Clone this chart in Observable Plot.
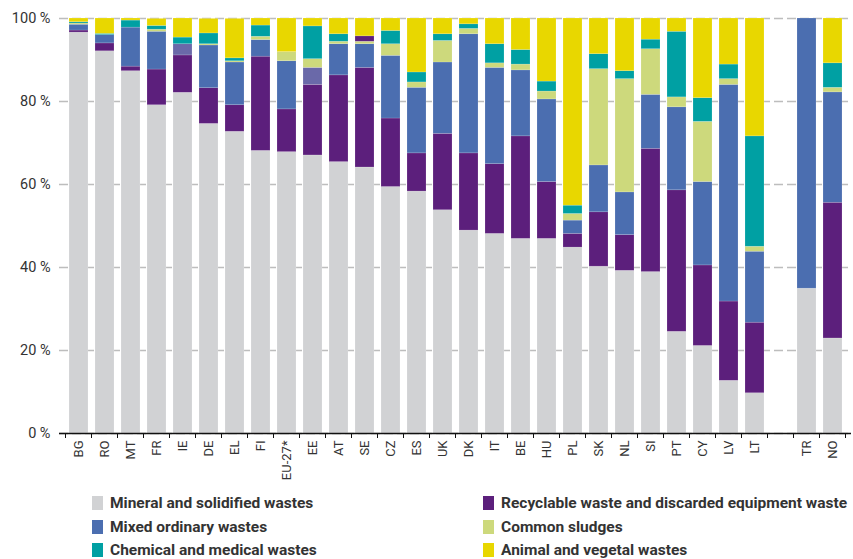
<!DOCTYPE html>
<html>
<head>
<meta charset="utf-8">
<script src="https://cdn.jsdelivr.net/npm/d3@7"></script>
<script src="https://cdn.jsdelivr.net/npm/@observablehq/plot@0.6"></script>
<style>
  body { margin: 0; background: #fff; }
  #chart { position: relative; width: 853px; height: 559px; font-family: Roboto, "Open Sans", sans-serif; }
  .legend { position: absolute; left: 0; top: 485px; width: 853px; height: 74px; }
  .item { position: absolute; display: flex; align-items: center; font-weight: bold; font-size: 15.5px; color: #333; white-space: nowrap; }
  .sw { width: 11px; height: 14px; margin-right: 7px; }
</style>
</head>
<body>
<div id="chart"></div>
<script>
// Categories (the empty string is the visual gap between LT and TR)
const countries = ["BG","RO","MT","FR","IE","DE","EL","FI","EU-27*","EE","AT","SE","CZ","ES","UK","DK","IT","BE","HU","PL","SK","NL","SI","PT","CY","LV","LT","","TR","NO"];
const dataCountries = ["BG","RO","MT","FR","IE","DE","EL","FI","EU-27*","EE","AT","SE","CZ","ES","UK","DK","IT","BE","HU","PL","SK","NL","SI","PT","CY","LV","LT","TR","NO"];

// Shares (%) per series, one value per entry of dataCountries
const mineral     = [96.6,92.1,87.3,79.1,82.1,74.6,72.7,68.1,67.8,67.0,65.4,64.1,59.4,58.3,53.8,48.9,48.1,46.9,46.9,44.8,40.2,39.2,38.9,24.5,21.1,12.7,9.7,34.9,22.9];
const recyclable  = [0.5,1.9,1.1,8.6,9.0,8.6,6.4,22.7,10.3,17.0,20.9,24.0,16.5,9.2,18.4,18.6,16.8,24.7,13.7,3.3,13.1,8.6,29.7,34.1,19.4,19.1,17.0,0,32.7];
const mixed       = [1.4,2.0,9.4,9.1,0,10.3,10.3,4.0,11.6,0,7.5,5.7,15.1,15.8,17.2,28.7,23.2,15.9,19.9,3.2,11.3,10.3,13.0,20.0,20.1,52.2,17.1,65.1,26.6];
const mixedShade  = [0,0,0,0,2.7,0,0,0,0,4.1,0,0,0,0,0,0,0,0,0,0,0,0,0,0,0,0,0,0,0];
const sludges     = [0.3,0,0,0.5,0,0.3,0.3,0.8,2.2,2.1,0.6,0.6,2.8,1.3,5.2,1.3,1.1,1.4,1.9,1.6,23.2,27.3,11.0,2.4,14.5,1.4,1.2,0,1.1];
const recycTop    = [0,0,0,0,0,0,0,0,0,0,0,1.3,0,0,0,0,0,0,0,0,0,0,0,0,0,0,0,0,0];
const chemical    = [0.3,0.3,1.7,0.9,1.6,2.6,0.7,2.7,0,7.9,1.8,0,3.2,2.4,1.6,1.1,4.6,3.5,2.4,2.0,3.6,1.9,2.3,15.8,5.7,3.5,26.6,0,5.9];
const animal      = [0.9,3.7,0.5,1.7,4.6,3.5,9.5,1.7,8.1,1.9,3.8,4.3,3.0,13.0,3.8,1.4,6.2,7.6,15.2,45.1,8.6,12.7,5.1,3.2,19.2,11.1,28.4,0,10.8];

const yTicks = [0,20,40,60,80,100];

const seriesNames = [
  "Mineral and solidified wastes",
  "Recyclable waste and discarded equipment waste",
  "Mixed ordinary wastes",
  "Mixed ordinary wastes (shade)",
  "Common sludges",
  "Recyclable waste (top)",
  "Chemical and medical wastes",
  "Animal and vegetal wastes"
];
const seriesValues = [mineral, recyclable, mixed, mixedShade, sludges, recycTop, chemical, animal];
const seriesColors = ["#d1d2d4","#5c1f7c","#4b6eb0","#6a69a9","#cdd97c","#5c1f7c","#00a0a3","#e8d700"];

const legendItems = [
  {name: "Mineral and solidified wastes", color: "#d1d2d4", left: 92, top: 19},
  {name: "Mixed ordinary wastes", color: "#4b6eb0", left: 92, top: 43},
  {name: "Chemical and medical wastes", color: "#00a0a3", left: 92, top: 66},
  {name: "Recyclable waste and discarded equipment waste", color: "#5c1f7c", left: 483, top: 19},
  {name: "Common sludges", color: "#cdd97c", left: 483, top: 43},
  {name: "Animal and vegetal wastes", color: "#e8d700", left: 483, top: 66}
];

const rows = [];
dataCountries.forEach((c, i) => {
  seriesNames.forEach((s, j) => {
    rows.push({country: c, series: s, value: seriesValues[j][i]});
  });
});

const plot = Plot.plot({
  width: 853,
  height: 485,
  marginLeft: 59,
  marginRight: 2,
  marginTop: 18,
  marginBottom: 52,
  style: {fontFamily: 'Roboto, "Open Sans", sans-serif', background: "#fff"},
  x: {domain: countries, padding: 0.27, label: null},
  y: {domain: [0, 100], label: null},
  color: {domain: seriesNames, range: seriesColors},
  marks: [
    Plot.gridY(yTicks, {stroke: "#bdbdbd", strokeOpacity: 1, strokeWidth: 1.5, strokeDasharray: "9,4", x1: null}),
    Plot.barY(rows, {x: "country", y: "value", fill: "series", order: seriesNames, stroke: "#ffffff", strokeOpacity: 0.25, strokeWidth: 0.6}),
    Plot.axisY(yTicks, {tickSize: 0, tickPadding: 9, tickFormat: d => d + " %", fontSize: 14.5, fill: "#333"}),
    Plot.axisX({tickSize: 0, tickPadding: 7, tickRotate: -90, fontSize: 13, fill: "#333"}),
    Plot.ruleY([0], {stroke: "#111", strokeWidth: 1.6})
  ]
});

// Boundary tick marks between categories, placed from the plot's own x scale
const xs = plot.scale("x");
const half = (xs.step - xs.bandwidth) / 2;
const svg = d3.select(plot);
const y0 = plot.scale("y").apply(0);
const bounds = countries.map(c => xs.apply(c) - half).concat([xs.apply(countries[countries.length - 1]) + xs.bandwidth + half]);
svg.append("g").selectAll("line").data(bounds).join("line")
  .attr("x1", d => d).attr("x2", d => d)
  .attr("y1", y0).attr("y2", y0 + 5)
  .attr("stroke", "#111").attr("stroke-width", 1);

const chart = document.getElementById("chart");
chart.appendChild(plot);

const legend = document.createElement("div");
legend.className = "legend";
legendItems.forEach(it => {
  const el = document.createElement("div");
  el.className = "item";
  el.style.left = it.left + "px";
  el.style.top = (it.top - 10) + "px";
  const sw = document.createElement("span");
  sw.className = "sw";
  sw.style.background = it.color;
  const tx = document.createElement("span");
  tx.textContent = it.name;
  el.appendChild(sw);
  el.appendChild(tx);
  legend.appendChild(el);
});
chart.appendChild(legend);
</script>
</body>
</html>
